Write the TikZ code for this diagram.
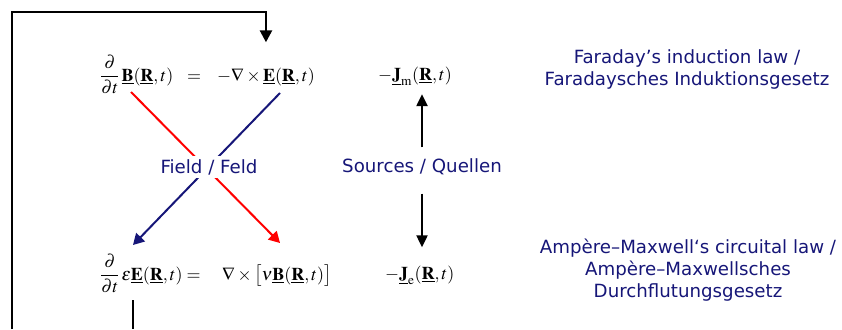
\documentclass[tikz,border=0pt]{standalone}
\usepackage{amsmath}
\usepackage{mathptmx}
\usepackage{fontspec}
\setsansfont{DejaVu Sans}
\usetikzlibrary{arrows.meta}
\definecolor{navyblue}{RGB}{22,22,120}
\newcommand{\uv}[1]{\underline{\mathbf{#1}}}

\begin{document}
\begin{tikzpicture}[x=1pt, y=-1pt,
  eqn/.style={inner sep=0pt, anchor=base west, font=\fontsize{18}{21}\selectfont},
  lbl/.style={font=\sffamily\fontsize{18.2}{22}\selectfont, text=navyblue, align=center},
  fb/.style={line width=2.6pt, -{Triangle[length=12pt,width=12pt]}},
  fbline/.style={line width=2.6pt},
  srcarr/.style={line width=2.2pt, -{Triangle[length=12pt,width=11pt]}},
  fieldarr/.style={line width=2pt, -{Triangle[length=11pt,width=12pt]}}
]
\useasboundingbox (0,0) rectangle (842,329);
\node[eqn] (dB) at (100,81) {$\dfrac{\partial}{\partial t}\,\uv{B}(\uv{R},t)$};
\node[eqn, anchor=base] (eqA) at (194,81) {$=$};
\node[eqn] (curlE) at (217,81) {$-\nabla\times\uv{E}(\uv{R},t)$};
\node[eqn] (Jm) at (378,80) {$-\uv{J}_{\mathrm{m}}(\uv{R},t)$};
\node[eqn] (dE) at (100,280) {$\dfrac{\partial}{\partial t}\,\varepsilon\uv{E}(\uv{R},t) =$};
\node[eqn] (curlH) at (222,280) {$\nabla\times\bigl[\nu\uv{B}(\uv{R},t)\bigr]$};
\node[eqn] (Je) at (385,279) {$-\uv{J}_{\mathrm{e}}(\uv{R},t)$};
\coordinate (redA) at (131,92);
\coordinate (redB) at (280,243);
\coordinate (blueA) at (280,93);
\coordinate (blueB) at (133,245);
\coordinate (loopL) at (12,329);
\coordinate (loopB) at (133,329);
\coordinate (loopS) at (133,300);
\draw[fieldarr, red] (redA) -- (redB);
\draw[fieldarr, navyblue] (blueA) -- (blueB);
\node[lbl, fill=white, inner sep=3pt] (field) at (209,167) {Field / Feld};
\node[lbl] (sources) at (422,167) {Sources / Quellen};
\node[lbl] (faraday) at (687,69) {Faraday’s induction law /\\Faradaysches Induktionsgesetz};
\node[lbl] (ampere) at (688,270) {Ampère–Maxwell‘s circuital law /\\Ampère–Maxwellsches\\Durchflutungsgesetz};
\draw[srcarr, shorten <=8pt, shorten >=8pt] (sources.north) -- (sources.north |- Jm.south);
\draw[srcarr, shorten <=15pt, shorten >=18pt] (sources.south) -- (sources.south |- Je.north);
\draw[fb, shorten >=25pt] (loopL) -- (12,12) -| (curlE.north);
\draw[fbline] (loopS) -- (loopB);
\end{tikzpicture}
\end{document}
